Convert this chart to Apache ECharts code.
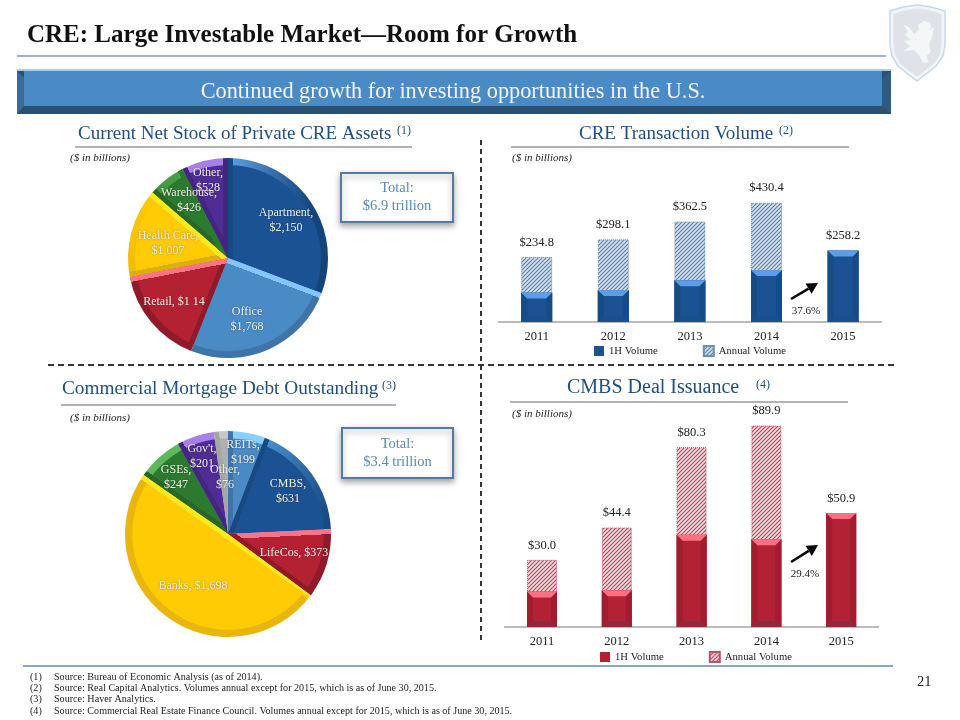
<!DOCTYPE html>
<html>
<head>
<meta charset="utf-8">
<style>html,body{margin:0;padding:0;background:#fff}#c{width:960px;height:720px}</style>
<script src="https://cdn.jsdelivr.net/npm/echarts@6/dist/echarts.min.js"></script>
</head>
<body>
<div id="c"></div>
<script>
// ---------- data ----------
const years = ['2011','2012','2013','2014','2015'];
const creAnnual = [234.8,298.1,362.5,430.4,258.2];
const cre1H = [106,115,151,188,258.2];
const cmbsAnnual = [30.0,44.4,80.3,89.9,50.9];
const cmbs1H = [15.8,16.4,41.2,39.2,50.9];
const stockNames = ['Apartment','Office','Retail','Health Care','Warehouse','Other'];
const stockValues = [2150,1768,1114,1007,426,528];
const stockLabels = ['Apartment,\n$2,150','Office\n$1,768','Retail, $1 14','Health Care,\n$1,007','Warehouse,\n$426','Other,\n$528'];
const debtNames = ['REITs','CMBS','LifeCos','Banks','GSEs',"Gov't",'Other'];
const debtValues = [199,631,373,1698,247,201,76];
const debtLabels = ['REITs,\n$199','CMBS,\n$631','LifeCos, $373','Banks, $1,698','GSEs,\n$247',"Gov't,\n$201",'Other,\n$76'];
const footnotes = [
 ['(1)','Source: Bureau of Economic Analysis (as of 2014).'],
 ['(2)','Source: Real Capital Analytics. Volumes annual except for 2015, which is as of June 30, 2015.'],
 ['(3)','Source: Haver Analytics.'],
 ['(4)','Source: Commercial Real Estate Finance Council. Volumes annual except for 2015, which is as of June 30, 2015.']
];

// ---------- styles and layout ----------
const SERIF = '"Liberation Serif", serif';
const stockLabelPos = [[286,220],[247,319],[174,302],[168,243],[189,200],[208,180]];
const debtLabelPos = [[243,452],[288,491],[294,553],[193,586],[176,477],[202,456],[225,477]];
// main, start-edge strip, end-edge strip, rim (start side), rim (end side)
const stockStyle = [
 ['#1b5293','#174a82',null,'#5a9be0','#14457a'],
 ['#4a8ac5','#85c5ff',null,'#3f74a8','#3f74a8'],
 ['#b32133','#8f1a2a','#ff7385','#8f1a2a','#8f1a2a'],
 ['#ffcb05','#dcae14','#ffe81e','#eebd0a','#ffcb05'],
 ['#2c7a30','#256828','#2c7a30','#3f9440','#5cb85c'],
 ['#4f2d94','#43267f','#43267f','#a77fe8','#a77fe8']
];
const debtStyle = [
 ['#4a8ac5','#3f74a8',null,'#85d0ff','#85d0ff'],
 ['#1b5293','#174a82',null,'#4a8ccc','#174a80'],
 ['#b32133','#ff7385','#8f1a2a','#8f1a2a','#8f1a2a'],
 ['#ffcb05','#ffcb05','#ffe81e','#e8b60c','#e8b60c'],
 ['#2c7a30','#256828',null,'#5cb85c','#5cb85c'],
 ['#4f2d94','#43267f',null,'#a77fe8','#a77fe8'],
 ['#b0b0b0','#a6a6a6',null,'#c8c8c8','#c8c8c8']
];

function hatch(line, bg){
  const c = document.createElement('canvas'); c.width = c.height = 4;
  const g = c.getContext('2d');
  g.fillStyle = bg; g.fillRect(0,0,4,4);
  g.strokeStyle = line; g.lineWidth = 1.1;
  g.beginPath(); g.moveTo(-1,1); g.lineTo(1,-1); g.moveTo(-1,5); g.lineTo(5,-1); g.moveTo(3,5); g.lineTo(5,3); g.stroke();
  return {image:c, repeat:'repeat'};
}
function edgeGrad(cx,cy,a,dir,R,w,colA,colB,colC){
  const nx = Math.cos(a)*dir, ny = Math.sin(a)*dir, L = R*2, t = w/L;
  return {type:'linear',global:true,x:cx,y:cy,x2:cx+nx*L,y2:cy+ny*L,colorStops:[
    {offset:0,color:colA},{offset:t,color:colA},{offset:t,color:colB},{offset:0.42,color:colC},{offset:1,color:colC}]};
}
function pieSeries(prefix,names,values,labels,pos,style,cx,cy,R){
  const total = values.reduce((a,b)=>a+b,0);
  let acc = 0;
  const angles = values.map(v=>{const s=acc/total*2*Math.PI; acc+=v; return [s,acc/total*2*Math.PI];});
  const base = {type:'pie',center:[cx,cy],startAngle:90,clockwise:true,silent:true,avoidLabelOverlap:false,
    labelLine:{show:false},emphasis:{disabled:true}};
  const noLabel = {show:false};
  const rim = names.map((n,i)=>({name:n,value:values[i],itemStyle:{color:
     edgeGrad(cx,cy,angles[i][0],1,R,5,style[i][1],style[i][3],style[i][4])}}));
  const main = names.map((n,i)=>({name:n,value:values[i],itemStyle:{color:
     edgeGrad(cx,cy,angles[i][0],1,R,5,style[i][1],style[i][0],style[i][0])}}));
  const top = names.map((n,i)=>({name:n,value:values[i],itemStyle:{color: style[i][2] ?
     edgeGrad(cx,cy,angles[i][1],-1,R,5,style[i][2],'rgba(0,0,0,0)','rgba(0,0,0,0)') : 'rgba(0,0,0,0)'}}));
  return [
    Object.assign({},base,{name:prefix+' rim',radius:[0,R],data:rim,label:noLabel,z:2}),
    Object.assign({},base,{name:prefix+' face',radius:[0,R*0.93],data:main,label:noLabel,z:3}),
    Object.assign({},base,{name:prefix,radius:[0,R],data:top,z:4,
      label:{show:true,position:'inside',color:'#f4f0e8',fontFamily:SERIF,fontSize:12,lineHeight:15,
        formatter:p=>labels[p.dataIndex],textShadowColor:'rgba(0,0,0,0.4)',textShadowBlur:2},
      labelLayout:p=>({x:pos[p.dataIndex][0],y:pos[p.dataIndex][1],align:'center',verticalAlign:'middle'})})
  ];
}
function bevelSeries(idx,values,w,b,cols){
  return {type:'custom',coordinateSystem:'cartesian2d',xAxisIndex:idx,yAxisIndex:idx,silent:true,z:5,
    data:values.map((v,i)=>[i,v]),encode:{x:0,y:1},
    renderItem:(params,api)=>{
      const x=api.value(0),v=api.value(1);
      const t=api.coord([x,v]),o=api.coord([x,0]);
      const l=t[0]-w/2,r=t[0]+w/2,y0=t[1],y1=o[1];
      const poly=(pts,fill)=>({type:'polygon',shape:{points:pts},style:{fill}});
      return {type:'group',children:[
        poly([[l,y0],[l+b,y0+b],[l+b,y1-b],[l,y1]],cols.side),
        poly([[r,y0],[r-b,y0+b],[r-b,y1-b],[r,y1]],cols.side),
        poly([[l,y1],[l+b,y1-b],[r-b,y1-b],[r,y1]],cols.bottom),
        poly([[l,y0],[r,y0],[r-b,y0+b],[l+b,y0+b]],cols.top)
      ]};
    }};
}
function barSet(idx,prefix,annual,h1,barW,hatchFill,hatchBorder,face,cols){
  return [
    {type:'bar',name:prefix+' Annual Volume',xAxisIndex:idx,yAxisIndex:idx,data:annual,barWidth:barW,barGap:'-100%',
      itemStyle:{color:hatchFill,borderColor:hatchBorder,borderWidth:1,borderType:'dotted'},silent:true,z:3,
      label:{show:true,position:'top',distance:8,color:'#222',fontFamily:SERIF,fontSize:12.5,
        formatter:p=>'$'+p.value.toFixed(1)}},
    {type:'bar',name:prefix+' 1H Volume',xAxisIndex:idx,yAxisIndex:idx,data:h1,barWidth:barW,barGap:'-100%',
      itemStyle:{color:face},silent:true,z:4},
    bevelSeries(idx,h1,barW,6,cols)
  ];
}
const txt=(x,y,text,size,fill,extra)=>({type:'text',silent:true,z:20,x,y,style:Object.assign({text,fill,
   font:(extra&&extra.fontStyle?extra.fontStyle+' ':'')+size+'px '+SERIF,
   align:(extra&&extra.align)||'left',verticalAlign:'middle'},(extra&&extra.style)||{})});
const line=(x1,y1,x2,y2,stroke,w,dash)=>({type:'line',silent:true,z:10,shape:{x1,y1,x2,y2},
   style:{stroke,lineWidth:w,lineDash:dash||null}});
const polyG=(pts,fill,extra)=>({type:'polygon',silent:true,z:10,shape:{points:pts},style:Object.assign({fill},extra||{})});
function arrow(x1,y1,x2,y2){
  const ang=Math.atan2(y2-y1,x2-x1),h=11,s=6;
  const bx=x2-Math.cos(ang)*h,by=y2-Math.sin(ang)*h;
  return [line(x1,y1,bx,by,'#0a0a0a',2.6),
    polyG([[x2,y2],[bx-Math.sin(ang)*s,by+Math.cos(ang)*s],[bx+Math.sin(ang)*s,by-Math.cos(ang)*s]],'#0a0a0a')];
}
function totalBox(x,y,w,h,l1,l2){
  return [{type:'rect',silent:true,z:10,shape:{x,y,width:w,height:h},
    style:{fill:'#fff',stroke:'#4f7ba8',lineWidth:2,shadowBlur:6,shadowColor:'rgba(0,0,0,0.35)',shadowOffsetY:3}},
    txt(x+w/2,y+h/2-9,l1,14.5,'#5a8ab8',{align:'center',style:{shadowBlur:2,shadowColor:'rgba(0,0,0,0.3)'}}),
    txt(x+w/2,y+h/2+9,l2,14.5,'#5a8ab8',{align:'center',style:{shadowBlur:2,shadowColor:'rgba(0,0,0,0.3)'}})];
}
function heading(x,y,text,size,note,noteX,ux1,ux2,uy){
  return [txt(x,y,text,size,'#1f4e86'),txt(noteX,y-3,note,12,'#1f4e86'),line(ux1,uy,ux2,uy,'#9a9a9a',1.5)];
}
const shieldOuter=[[890,11],[903,7],[917,5],[931,7],[945,11],[945,45],[943,56],[936,66],[917,81],[898,66],[892,56],[890,45]];
const shieldInner=[[893,14],[905,10],[917,8],[929,10],[942,14],[942,45],[940,55],[934,64],[917,77],[900,64],[895,55],[893,45]];
const lion=[[903,24],[910,28],[914,34],[919,30],[918,25],[924,21],[930,23],[931,28],[928,31],[934,27],[932,37],[929,44],[931,52],[926,56],[929,62],[923,63],[919,55],[914,50],[904,51],[910,46],[904,41],[911,40],[905,35],[908,32]];

const hatchBlue=hatch('#5f7f9f','#d4e1ee');
const hatchRed=hatch('#a84656','#f5dde1');

const graphics=[
  // header
  line(17,56,886,56,'#9fb3cc',2),
  polyG(shieldOuter,'#f3f6f9',{stroke:'#c6d9ea',lineWidth:1.5}),
  polyG(shieldInner,'#dfe3e8',{stroke:'#eef2f5',lineWidth:1}),
  polyG(lion,'#f5f6f8'),
  // banner
  {type:'rect',silent:true,z:8,shape:{x:17,y:69,width:874,height:45},style:{fill:'#2c5071'}},
  {type:'rect',silent:true,z:9,shape:{x:24,y:71,width:858,height:35},style:{fill:'#4a8ac5'}},
  {type:'rect',silent:true,z:9,shape:{x:17,y:69,width:874,height:2},style:{fill:'#a9cdea'}},
  polyG([[17,71],[24,78],[24,106],[17,114]],'#3a6a96'),
  polyG([[891,71],[882,78],[882,106],[891,114]],'#2f5a82'),
  txt(453,92,'Continued growth for investing opportunities in the U.S.',22.3,'#f2f6fb',{align:'center'}),
  // dividers
  line(481,140,481,642,'#333',2,[5,4]),
  line(48,365,898,365,'#333',2,[6,4]),
  // headings
  ...heading(78,134,'Current Net Stock of Private CRE Assets',19,'(1)',397,75,412,147),
  ...heading(579,134,'CRE Transaction Volume',19,'(2)',779,511,849,147),
  ...heading(62,389,'Commercial Mortgage Debt Outstanding',19.3,'(3)',382,61,396,405),
  ...heading(567,388,'CMBS Deal Issuance',20,'(4)',756,510,848,402),
  txt(70,158,'($ in billions)',11,'#222',{fontStyle:'italic'}),
  txt(512,158,'($ in billions)',11,'#222',{fontStyle:'italic'}),
  txt(70,418,'($ in billions)',11,'#222',{fontStyle:'italic'}),
  txt(512,414,'($ in billions)',11,'#222',{fontStyle:'italic'}),
  // totals
  ...totalBox(341,173,112,49,'Total:','$6.9 trillion'),
  ...totalBox(342,428,111,50,'Total:','$3.4 trillion'),
  // growth arrows
  ...arrow(791,299,818,283),
  ...arrow(791,562,818,545),
  txt(806,311,'37.6%',11,'#222',{align:'center'}),
  txt(805,574,'29.4%',11,'#222',{align:'center'}),
  // footer
  line(23,666,893,666,'#8aa6c4',2),
  txt(917,682,'21',14.5,'#222'),
];
footnotes.forEach((f,i)=>{
  const y=677+i*11.4;
  graphics.push(txt(30,y,f[0],10.1,'#222'));
  graphics.push(txt(54,y,f[1],10.1,'#222'));
});

const axisX=(idx)=>({type:'category',gridIndex:idx,data:years,axisTick:{show:false},
  axisLine:{lineStyle:{color:'#a5a5a5',width:1.5}},
  axisLabel:{color:'#222',fontFamily:SERIF,fontSize:12.5,margin:8,interval:0}});
const axisY=(idx,max)=>({type:'value',gridIndex:idx,min:0,max,show:false,splitLine:{show:false}});
const legendOf=(left,top,prefix)=>({left,top,padding:0,itemWidth:10,itemHeight:10,itemGap:45,icon:'rect',selectedMode:false,
  data:[prefix+' 1H Volume',prefix+' Annual Volume'],
  formatter:n=>n.replace(prefix+' ',''),
  textStyle:{color:'#222',fontFamily:SERIF,fontSize:10.7}});

const option={
  animation:false,
  backgroundColor:'#fff',
  title:{text:'CRE: Large Investable Market\u2014Room for Growth',left:22,top:18,
    textStyle:{fontFamily:SERIF,fontWeight:'bold',fontSize:25,color:'#111'}},
  legend:[legendOf(594,345,'CRE'),legendOf(600,651,'CMBS')],
  graphic:{elements:graphics},
  grid:[
    {left:498.4,width:383,top:183.4,height:138.6,containLabel:false},
    {left:504.6,width:374,top:403,height:224,containLabel:false}
  ],
  xAxis:[axisX(0),axisX(1)],
  yAxis:[axisY(0,500),axisY(1,100)],
  series:[
    ...pieSeries('Private CRE assets',stockNames,stockValues,stockLabels,stockLabelPos,stockStyle,228,258,100),
    ...pieSeries('Mortgage debt',debtNames,debtValues,debtLabels,debtLabelPos,debtStyle,228,534,103),
    ...barSet(0,'CRE',creAnnual,cre1H,31,hatchBlue,'#6f8fae','#1b5293',{top:'#5b9de8',side:'#174b86',bottom:'#19508c'}),
    ...barSet(1,'CMBS',cmbsAnnual,cmbs1H,30,hatchRed,'#b5566a','#b22234',{top:'#ff6f82',side:'#a01c2e',bottom:'#8f2a3e'})
  ]
};
const chart=echarts.init(document.getElementById('c'),null,{renderer:'canvas'});
chart.setOption(option);
</script>
</body>
</html>
